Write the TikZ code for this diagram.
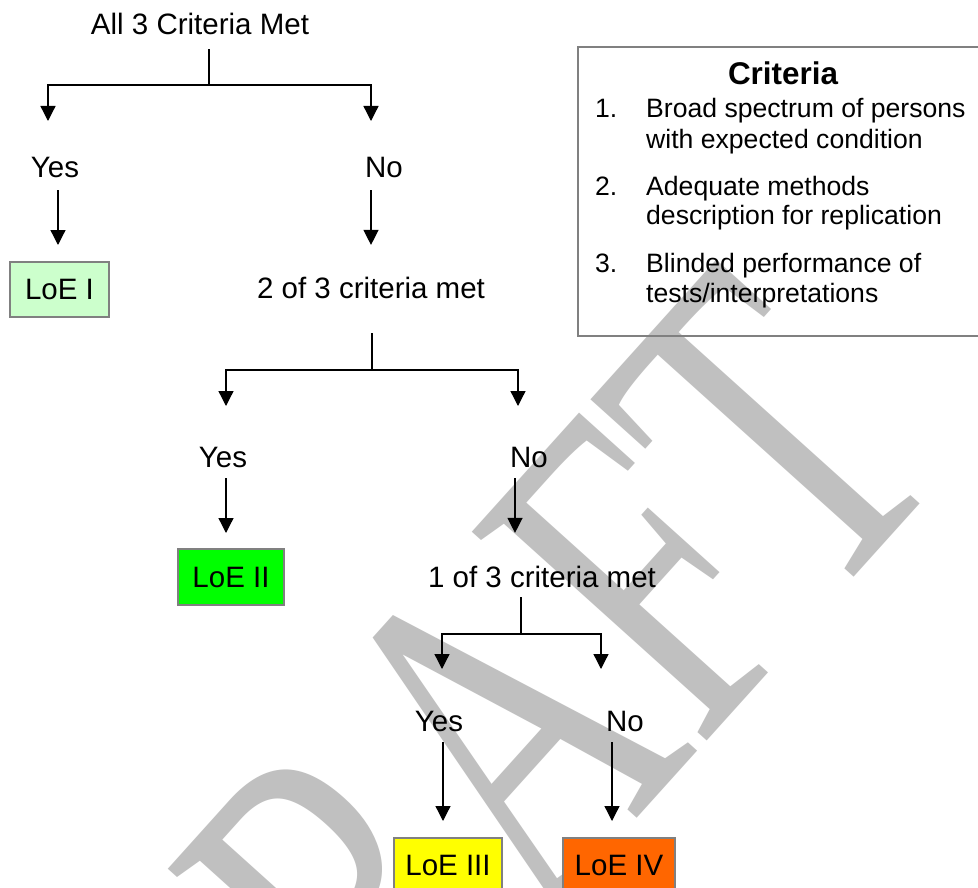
\documentclass[tikz,border=0pt]{standalone}
\usepackage{fontspec}
\setmainfont{Liberation Sans}
\newfontfamily\wmfont{Liberation Serif}
\usetikzlibrary{arrows.meta}
\definecolor{wmgray}{HTML}{C0C0C0}
\definecolor{boxgray}{HTML}{808080}
\definecolor{loeI}{HTML}{CCFFCC}
\definecolor{loeII}{HTML}{00FF00}
\definecolor{loeIII}{HTML}{FFFF00}
\definecolor{loeIV}{HTML}{FF6600}
\newcommand\mainsz{\fontsize{29.5}{34}\selectfont}
\newcommand\listsz{\fontsize{26.6}{30}\selectfont}
\newcommand\titlesz{\fontsize{31.4}{36}\selectfont\bfseries}
\begin{document}
\begin{tikzpicture}[x=1pt,y=-1pt,
  lbl/.style={font=\mainsz, inner sep=0pt, anchor=base},
  lst/.style={font=\listsz, inner sep=0pt, anchor=base west},
  loebox/.style={draw=boxgray, line width=2pt, inner sep=0pt, minimum height=55pt, font=\mainsz},
  ln/.style={line width=1.3pt},
  arr/.style={line width=1.3pt, -{Triangle[width=15pt,length=15pt]}}]
\useasboundingbox (0,0) rectangle (978,888);
\fill[white] (0,0) rectangle (978,888);
% watermark
\node[anchor=base west, rotate=48, inner sep=0pt, text=wmgray] (wm) at (238,1262)
  {\scalebox{0.68}[1]{\wmfont\fontsize{480}{480}\selectfont DRAFT}};
% criteria box
\node[draw=boxgray, line width=2pt, minimum width=430pt, minimum height=289pt, anchor=north west, inner sep=0pt] (crit) at (577,46) {};
\node[font=\titlesz, inner sep=0pt, anchor=base] (ctitle) at (783,85) {Criteria};
\node[lst] (n1) at (595,118) {1.};
\node[lst] (i1a) at (646,118) {Broad spectrum of persons};
\node[lst] (i1b) at (646,149) {with expected condition};
\node[lst] (n2) at (595,196) {2.};
\node[lst] (i2a) at (646,196) {Adequate methods};
\node[lst] (i2b) at (646,225) {description for replication};
\node[lst] (n3) at (595,272) {3.};
\node[lst] (i3a) at (646,272) {Blinded performance of};
\node[lst] (i3b) at (646,302) {tests/interpretations};
% level 1
\node[lbl] (top) at (200,35) {All 3 Criteria Met};
\node[lbl] (yes1) at (55,178) {Yes};
\node[lbl] (no1) at (384,178) {No};
\node[loebox, fill=loeI, minimum width=99pt] (loe1) at (59.5,289.5) {LoE I};
\node[lbl] (c2) at (371,298) {2 of 3 criteria met};
\coordinate (j1) at (209,85);
\coordinate (t1y) at (48,121);
\coordinate (t1n) at (371,121);
\draw[ln, shorten <=14pt] (j1 |- top.south) -- (j1);
\draw[arr] (j1) -| (t1y);
\draw[arr] (j1) -| (t1n);
\draw[arr, shorten <=12pt, shorten >=16pt] (yes1.south -| 58,0) -- (loe1.north -| 58,0);
\draw[arr, shorten <=12pt, shorten >=31.5pt] (t1n |- no1.south) -- (t1n |- c2.north);
% level 2
\node[lbl] (yes2) at (223,467) {Yes};
\node[lbl] (no2) at (529,467) {No};
\node[loebox, fill=loeII, minimum width=106pt, minimum height=56pt] (loe2) at (231,577) {LoE II};
\node[lbl] (c3) at (542,587) {1 of 3 criteria met};
\coordinate (j2) at (372,370);
\coordinate (t2y) at (226,406);
\coordinate (t2n) at (518,406);
\coordinate (a2n) at (515,406);
\draw[ln, shorten <=35pt] (j2 |- c2.south) -- (j2);
\draw[arr] (j2) -| (t2y);
\draw[arr] (j2) -| (t2n);
\draw[arr, shorten <=11pt, shorten >=15pt] (t2y |- yes2.south) -- (t2y |- loe2.north);
\draw[arr, shorten <=11pt, shorten >=32.5pt] (a2n |- no2.south) -- (a2n |- c3.north);
% level 3
\node[lbl] (yes3) at (439,731) {Yes};
\node[lbl] (no3) at (625,731) {No};
\node[loebox, fill=loeIII, minimum width=108pt] (loe3) at (448,865.5) {LoE III};
\node[loebox, fill=loeIV, minimum width=112pt] (loe4) at (619,865.5) {LoE IV};
\coordinate (j3) at (521,634);
\coordinate (t3y) at (442,669);
\coordinate (t3n) at (601,669);
\coordinate (a3y) at (443,669);
\coordinate (a3n) at (612,669);
\draw[ln, shorten <=10pt] (j3 |- c3.south) -- (j3);
\draw[arr] (j3) -| (t3y);
\draw[arr] (j3) -| (t3n);
\draw[arr, shorten <=11pt, shorten >=16pt] (a3y |- yes3.south) -- (a3y |- loe3.north);
\draw[arr, shorten <=11pt, shorten >=16pt] (a3n |- no3.south) -- (a3n |- loe4.north);
\end{tikzpicture}
\end{document}
